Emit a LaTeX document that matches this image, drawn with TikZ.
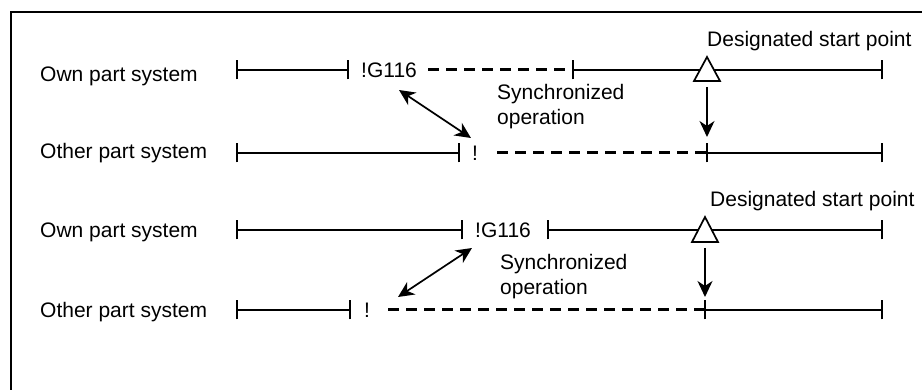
\documentclass[tikz,border=0pt]{standalone}
\usepackage{fontspec}
\setmainfont{Liberation Sans}
\usetikzlibrary{arrows.meta}
\begin{document}
\begin{tikzpicture}[x=1pt,y=-1pt,
  seg/.style={line width=1.7pt},
  dsh/.style={line width=3pt,dash pattern=on 11pt off 7pt},
  tick/.style={line width=1.7pt},
  lbl/.style={font=\fontsize{21}{25}\selectfont,inner sep=0pt,anchor=base west},
  arr/.style={line width=1.7pt,-{Stealth[length=16pt,width=15pt,inset=5pt]}},
  darr/.style={line width=1.7pt,{Stealth[length=16pt,width=15pt,inset=5pt]}-{Stealth[length=16pt,width=15pt,inset=5pt]}},
  tri/.style={line width=1.7pt,fill=white}
]
\useasboundingbox (0,0) rectangle (922,390);
\draw[line width=2.2pt] (11,390) -- (11,12) -- (922,12);

% ---------- upper half ----------
\node[lbl] (own1) at (40,82) {Own part system};
\node[lbl] (oth1) at (40,159) {Other part system};
\coordinate (a0) at (237,70); \coordinate (a1) at (348,70);
\coordinate (a2) at (428,70); \coordinate (a3) at (573,70);
\coordinate (a4) at (882,70);
\node[lbl] (g1) at (361,78) {!G116};
\draw[seg] (a0) -- (a1);
\draw[dsh] (a2) -- (a3);
\draw[seg] (a3) -- (a4);
\foreach \p in {a0,a1,a3,a4} \draw[tick] ([yshift=-9.5pt]\p) -- ([yshift=9.5pt]\p);
\coordinate (b0) at (237,153); \coordinate (b1) at (459,153);
\coordinate (b2) at (497,153); \coordinate (b3) at (707,153);
\coordinate (b4) at (882,153);
\node[lbl] (ex1) at (472,161) {!};
\draw[seg] (b0) -- (b1);
\draw[dsh] (b2) -- (b3);
\draw[seg] (b3) -- (b4);
\foreach \p in {b0,b1,b3,b4} \draw[tick] ([yshift=-9.5pt]\p) -- ([yshift=9.5pt]\p);
\draw[tri] (707,57) coordinate (t1) -- (720,81) -- (694,81) -- cycle;
\node[lbl] (ds1) at (707,47) {Designated start point};
\node[lbl,align=left,anchor=north west] (so1) at (497,84) {Synchronized\\operation};
\coordinate (d1s) at (707,87); \coordinate (d1e) at (707,137);
\draw[arr] (d1s) -- (d1e);
\coordinate (s1a) at (399,90); \coordinate (s1b) at (471,138);
\draw[darr] (s1a) -- (s1b);

% ---------- lower half ----------
\node[lbl] (own2) at (40,238) {Own part system};
\node[lbl] (oth2) at (40,318) {Other part system};
\coordinate (c0) at (237,230); \coordinate (c1) at (462,230);
\coordinate (c3) at (548,230); \coordinate (c4) at (882,230);
\node[lbl] (g2) at (475,238) {!G116};
\draw[seg] (c0) -- (c1);
\draw[seg] (c3) -- (c4);
\foreach \p in {c0,c1,c3,c4} \draw[tick] ([yshift=-9.5pt]\p) -- ([yshift=9.5pt]\p);
\coordinate (e0) at (237,310); \coordinate (e1) at (350,310);
\coordinate (e2) at (388,310); \coordinate (e3) at (705,310);
\coordinate (e4) at (882,310);
\node[lbl] (ex2) at (364,318) {!};
\draw[seg] (e0) -- (e1);
\draw[dsh] (e2) -- (e3);
\draw[seg] (e3) -- (e4);
\foreach \p in {e0,e1,e3,e4} \draw[tick] ([yshift=-9.5pt]\p) -- ([yshift=9.5pt]\p);
\draw[tri] (705,217) coordinate (t2) -- (718,242) -- (692,242) -- cycle;
\node[lbl] (ds2) at (710,207) {Designated start point};
\node[lbl,align=left,anchor=north west] (so2) at (500,254) {Synchronized\\operation};
\coordinate (d2s) at (705,248); \coordinate (d2e) at (705,297);
\draw[arr] (d2s) -- (d2e);
\coordinate (s2a) at (472,248); \coordinate (s2b) at (398,297);
\draw[darr] (s2a) -- (s2b);
\end{tikzpicture}
\end{document}
